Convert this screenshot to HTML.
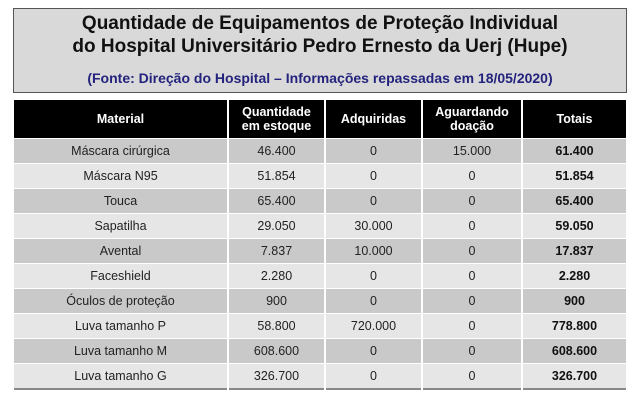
<!DOCTYPE html>
<html><head><meta charset="utf-8"><style>
body{margin:0;width:640px;height:400px;background:#fff;font-family:"Liberation Sans",sans-serif;position:relative;overflow:hidden}
.box{position:absolute;left:13px;top:8px;width:612px;height:83px;background:#d9d9d9;border:1px solid #555;text-align:center}
.t{font-weight:bold;font-size:19px;line-height:23px;color:#111;margin-top:3px}
.f{font-weight:bold;font-size:14px;color:#23237d;margin-top:12px}
table{position:absolute;left:14px;top:100px;width:612px;border-collapse:collapse;font-size:12.5px;color:#222}
th{background:#000;color:#fff;font-weight:bold;height:38px;font-size:12.5px;line-height:14px;padding:0;border-left:2px solid #fff}
td{height:24px;padding:0;text-align:center;border-left:2px solid #fff;border-top:1px solid #fff}
th:first-child,td:first-child{border-left:none}
tr.d td{background:#c9c9c9}
tr.l td{background:#e6e6e6}
td.b{font-weight:bold;color:#111}
table{border-bottom:2px solid #888}
</style></head><body>
<div class="box">
<div class="t">Quantidade de Equipamentos de Proteção Individual<br>do Hospital Universitário Pedro Ernesto da Uerj (Hupe)</div>
<div class="f">(Fonte: Direção do Hospital – Informações repassadas em 18/05/2020)</div>
</div>
<table>
<colgroup><col style="width:214px"><col style="width:97px"><col style="width:97px"><col style="width:100px"><col style="width:104px"></colgroup>
<tr><th>Material</th><th>Quantidade<br>em estoque</th><th>Adquiridas</th><th>Aguardando<br>doação</th><th>Totais</th></tr>
<tr class="d"><td>Máscara cirúrgica</td><td>46.400</td><td>0</td><td>15.000</td><td class="b">61.400</td></tr>
<tr class="l"><td>Máscara N95</td><td>51.854</td><td>0</td><td>0</td><td class="b">51.854</td></tr>
<tr class="d"><td>Touca</td><td>65.400</td><td>0</td><td>0</td><td class="b">65.400</td></tr>
<tr class="l"><td>Sapatilha</td><td>29.050</td><td>30.000</td><td>0</td><td class="b">59.050</td></tr>
<tr class="d"><td>Avental</td><td>7.837</td><td>10.000</td><td>0</td><td class="b">17.837</td></tr>
<tr class="l"><td>Faceshield</td><td>2.280</td><td>0</td><td>0</td><td class="b">2.280</td></tr>
<tr class="d"><td>Óculos de proteção</td><td>900</td><td>0</td><td>0</td><td class="b">900</td></tr>
<tr class="l"><td>Luva tamanho P</td><td>58.800</td><td>720.000</td><td>0</td><td class="b">778.800</td></tr>
<tr class="d"><td>Luva tamanho M</td><td>608.600</td><td>0</td><td>0</td><td class="b">608.600</td></tr>
<tr class="l"><td>Luva tamanho G</td><td>326.700</td><td>0</td><td>0</td><td class="b">326.700</td></tr>
</table>
</body></html>
